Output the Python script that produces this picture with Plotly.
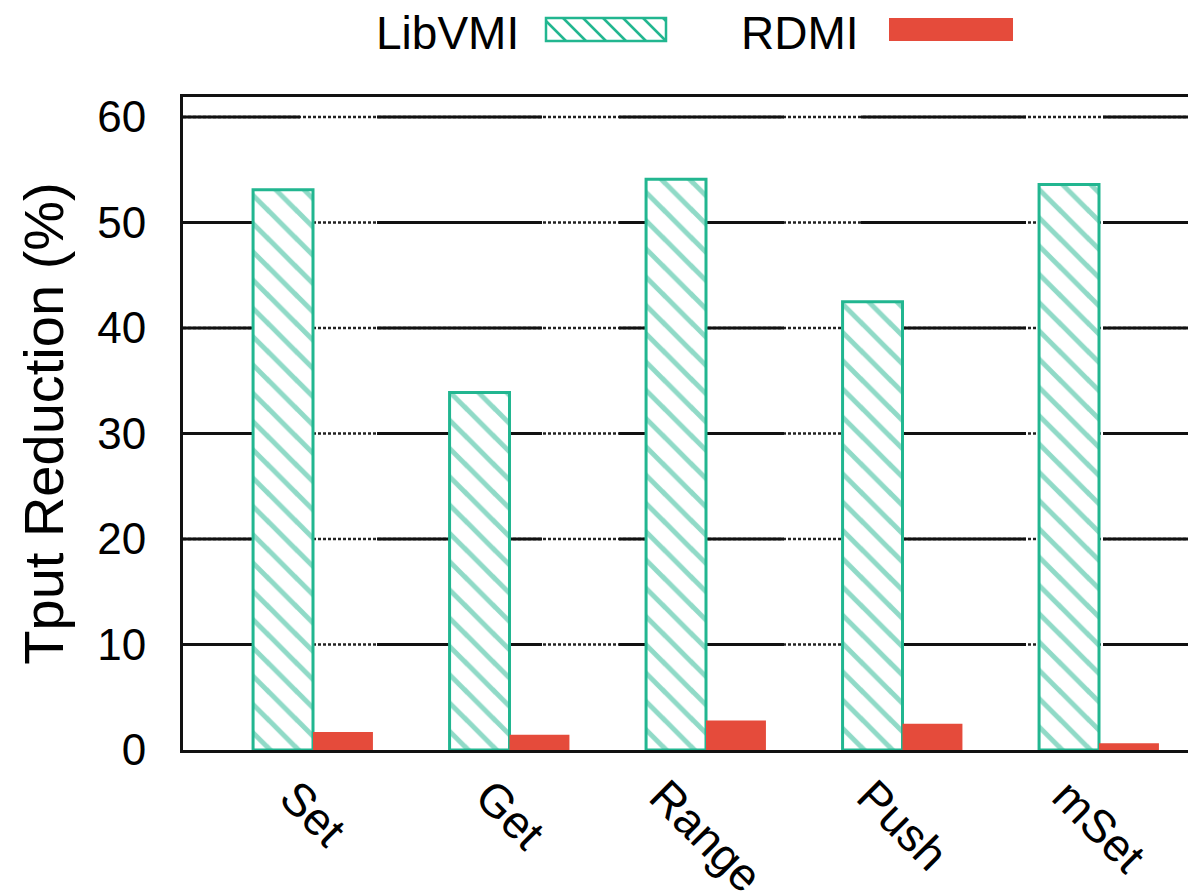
import plotly.graph_objects as go

categories = ["Set", "Get", "Range", "Push", "mSet"]
libvmi = [53.1, 33.9, 54.1, 42.5, 53.6]
rdmi = [1.7, 1.45, 2.8, 2.5, 0.65]
series_names = ["LibVMI", "RDMI"]
y_ticks = [0, 10, 20, 30, 40, 50, 60]

TEAL = "#22b690"
RED = "#e54b3b"
FONT = "Liberation Sans, Arial, sans-serif"

OFF = 8  # default page body margin
PAGE_W, PAGE_H = 1196, 891
W, H = PAGE_W - OFF, PAGE_H - OFF
P_L, P_T, P_R, P_B = 183, 97, 1196, 750
L = P_L - OFF
T = P_T - OFF
R = (OFF + W) - P_R
B = (OFF + H) - P_B
plot_w = P_R - P_L
plot_h = P_B - P_T

group_px = 196.5
x0_px = 313
x_lo = -(x0_px - P_L) / group_px
x_hi = (P_R - x0_px) / group_px
y_hi = 61.9

def px_to_paper_x(px):
    return (px - P_L) / plot_w

def px_to_paper_y(py):
    return (P_B - py) / plot_h

fig = go.Figure()
x_idx = list(range(len(categories)))
fig.add_trace(go.Bar(
    x=x_idx, y=libvmi, name=series_names[0], showlegend=False,
    marker=dict(color="white", line=dict(color=TEAL, width=3),
                pattern=dict(shape="\\", fgcolor=TEAL, bgcolor="white", size=20, solidity=0.25)),
))
fig.add_trace(go.Bar(
    x=x_idx, y=rdmi, name=series_names[1], showlegend=False,
    marker=dict(color=RED, line=dict(width=0)),
))

shapes = []
x_start_dash = x_lo - 48 / group_px
for yv in y_ticks[1:]:
    shapes.append(dict(type="line", xref="x", yref="y", x0=x_lo, x1=x_hi, y0=yv, y1=yv,
                       line=dict(color="#222", width=2.5, dash="3px,2px"), layer="below"))
    shapes.append(dict(type="line", xref="x", yref="y", x0=x_start_dash, x1=x_hi + 0.5, y0=yv, y1=yv,
                       line=dict(color="#111", width=3, dash="165px,77px"), layer="below"))

annotations = []
for i, c in enumerate(categories):
    annotations.append(dict(text=c, xref="x", yref="paper", x=i, y=px_to_paper_y(767),
                            xanchor="center", yanchor="top", textangle=45, showarrow=False,
                            font=dict(size=46, family=FONT, color="black")))

leg_y = px_to_paper_y(33)
annotations += [
    dict(text="LibVMI", xref="paper", yref="paper", x=px_to_paper_x(521), y=leg_y,
         xanchor="right", yanchor="middle", showarrow=False, font=dict(size=46, family=FONT, color="black")),
    dict(text="RDMI", xref="paper", yref="paper", x=px_to_paper_x(861), y=leg_y,
         xanchor="right", yanchor="middle", showarrow=False, font=dict(size=46, family=FONT, color="black")),
]
sx0, sx1, sy0, sy1 = 546, 666, 18, 41
shapes.append(dict(type="rect", xref="paper", yref="paper",
                   x0=px_to_paper_x(sx0), x1=px_to_paper_x(sx1),
                   y0=px_to_paper_y(sy1), y1=px_to_paper_y(sy0),
                   line=dict(color=TEAL, width=2.5), fillcolor="white"))
step = 20
xs = sx0 - (sy1 - sy0)
while xs < sx1:
    ax, ay = xs, sy0
    bx, by = xs + (sy1 - sy0), sy1
    if ax < sx0:
        ay = ay + (sx0 - ax); ax = sx0
    if bx > sx1:
        by = by - (bx - sx1); bx = sx1
    if ax < bx:
        shapes.append(dict(type="line", xref="paper", yref="paper",
                           x0=px_to_paper_x(ax), y0=px_to_paper_y(ay),
                           x1=px_to_paper_x(bx), y1=px_to_paper_y(by),
                           line=dict(color=TEAL, width=2.5)))
    xs += step
shapes.append(dict(type="rect", xref="paper", yref="paper",
                   x0=px_to_paper_x(889), x1=px_to_paper_x(1013),
                   y0=px_to_paper_y(41), y1=px_to_paper_y(18),
                   line=dict(width=0), fillcolor=RED))

fig.update_layout(
    width=W, height=H,
    margin=dict(l=L, r=R, t=T, b=B, pad=0, autoexpand=False),
    paper_bgcolor="white", plot_bgcolor="white",
    barmode="group", bargap=0.39, bargroupgap=0,
    font=dict(family=FONT, color="black"),
    shapes=shapes, annotations=annotations,
    showlegend=False,
    xaxis=dict(range=[x_lo, x_hi], tickmode="array", tickvals=x_idx, ticktext=categories,
               showticklabels=False, automargin=False,
               showgrid=False, zeroline=False, showline=True, linecolor="#111", linewidth=3,
               mirror=True, ticks=""),
    yaxis=dict(range=[0, y_hi], tickmode="array", tickvals=y_ticks, automargin=False,
               tickfont=dict(size=44, family=FONT, color="black"),
               showgrid=False, zeroline=False, showline=True, linecolor="#111", linewidth=3,
               ticks="", ticklabelstandoff=25,
               title=dict(text="Tput Reduction (%)", font=dict(size=56, family=FONT, color="black"),
                          standoff=16)),
)

fig.write_html("out.html")
